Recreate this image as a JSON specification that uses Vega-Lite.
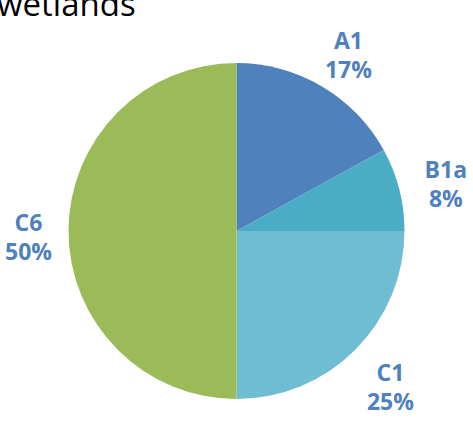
{
  "$schema": "https://vega.github.io/schema/vega-lite/v6.json",
  "width": 473,
  "height": 418,
  "padding": {"top": 22, "left": 0, "right": 0, "bottom": 0},
  "autosize": {"type": "none"},
  "background": "white",
  "title": {
    "text": "wetlands",
    "anchor": "start",
    "frame": "group",
    "offset": -1,
    "font": "Open Sans",
    "fontSize": 33,
    "fontWeight": "normal",
    "color": "#000000",
    "dx": -3
  },
  "data": {
    "values": [
      {"name": "A1", "value": 17, "label": "17%"},
      {"name": "B1a", "value": 8, "label": "8%"},
      {"name": "C1", "value": 25, "label": "25%"},
      {"name": "C6", "value": 50, "label": "50%"}
    ]
  },
  "encoding": {
    "theta": {"field": "value", "type": "quantitative", "stack": true},
    "order": {"field": "name", "type": "nominal"}
  },
  "layer": [
    {
      "mark": {"type": "arc", "outerRadius": 168, "stroke": null},
      "encoding": {
        "color": {
          "field": "name",
          "type": "nominal",
          "scale": {"domain": ["A1", "B1a", "C1", "C6"], "range": ["#4F81BD", "#4BACC6", "#6FBDD2", "#9BBB59"]},
          "legend": null
        }
      }
    },
    {
      "mark": {"type": "text", "radius": 212, "dx": 4, "dy": -7, "font": "Open Sans", "fontWeight": "bold", "fontSize": 23, "fill": "#4F81BD"},
      "encoding": {"text": {"field": "name"}}
    },
    {
      "mark": {"type": "text", "radius": 212, "dx": 4, "dy": 22, "font": "Open Sans", "fontWeight": "bold", "fontSize": 23, "fill": "#4F81BD"},
      "encoding": {"text": {"field": "label"}}
    }
  ]
}
